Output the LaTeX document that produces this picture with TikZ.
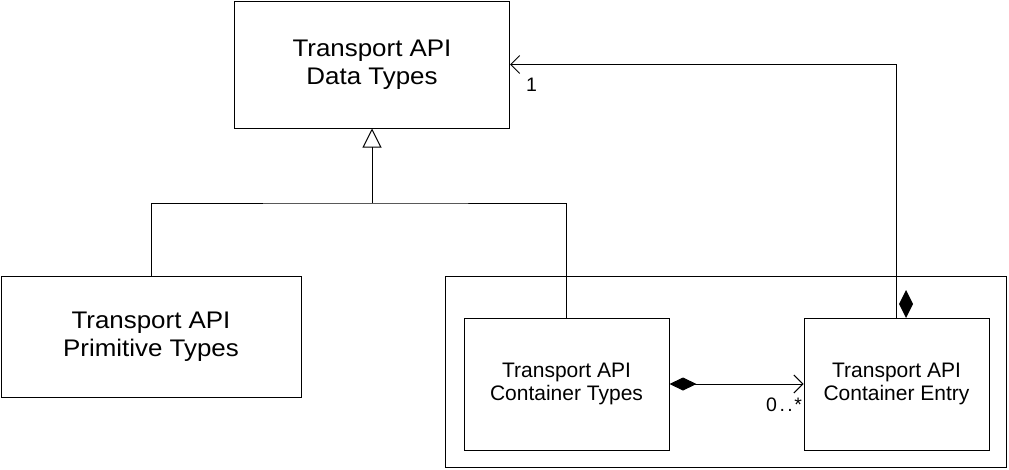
\documentclass[tikz,border=0pt]{standalone}
\usepackage{fontspec}
\setmainfont{Liberation Sans}
\newfontfamily\widesans[FakeStretch=1.08]{Liberation Sans}
\usetikzlibrary{arrows.meta}
\tikzset{
  umlbox/.style={draw=black, line width=1pt, rectangle, inner sep=0pt, align=center, fill=white},
  bigtext/.style={font=\widesans\fontsize{24}{28.5}\selectfont},
  smalltext/.style={font=\fontsize{21}{23.5}\selectfont},
  conn/.style={draw=black, line width=1pt},
  lbl/.style={inner sep=0pt, font=\fontsize{19.5}{21}\selectfont},
  openarrow/.style={-{Straight Barb[length=9pt,width=18pt,line width=1pt]}},
}
\begin{document}
\begin{tikzpicture}[x=1pt,y=-1pt]
\useasboundingbox (0,0) rectangle (1009,469);
% boxes
\node[umlbox, bigtext, minimum width=275pt, minimum height=127pt] (data) at (372,64.5) {Transport API\\Data Types};
\node[umlbox, bigtext, minimum width=300pt, minimum height=121pt] (prim) at (151,336.5) {Transport API\\Primitive Types};
\node[umlbox, minimum width=561pt, minimum height=191pt] (outer) at (725.5,371.5) {};
\node[umlbox, smalltext, minimum width=205pt, minimum height=132pt] (ct) at (566.5,384) {Transport API\\Container Types};
\node[umlbox, smalltext, minimum width=185pt, minimum height=132pt] (entry) at (896.5,384) {Transport API\\Container Entry};
% generalization
\coordinate (j) at (372,203);
\draw[conn] (prim.north) |- (j) -| (ct.north);
\draw[conn, -{Triangle[open, length=19pt, width=19pt, line width=1pt]}] (j) -- (data.south);
% composition container types -> entry
\draw[conn, {Diamond[length=27pt,width=13pt]}-{Straight Barb[length=9pt,width=18pt,line width=1pt]}] (ct.east) -- (entry.west);
% entry -> data types
\draw[conn, openarrow] (entry.north) |- (data.east);
\fill[black] (906,290) -- (913,304) -- (906,318) -- (899,304) -- cycle;
% labels
\node[lbl, anchor=base west] (one) at (526,91.5) {1};
\node[lbl, anchor=base west] (many) at (766,411.5) {0\kern2.5pt.\kern2.5pt.\kern1.5pt*};
\end{tikzpicture}
\end{document}
